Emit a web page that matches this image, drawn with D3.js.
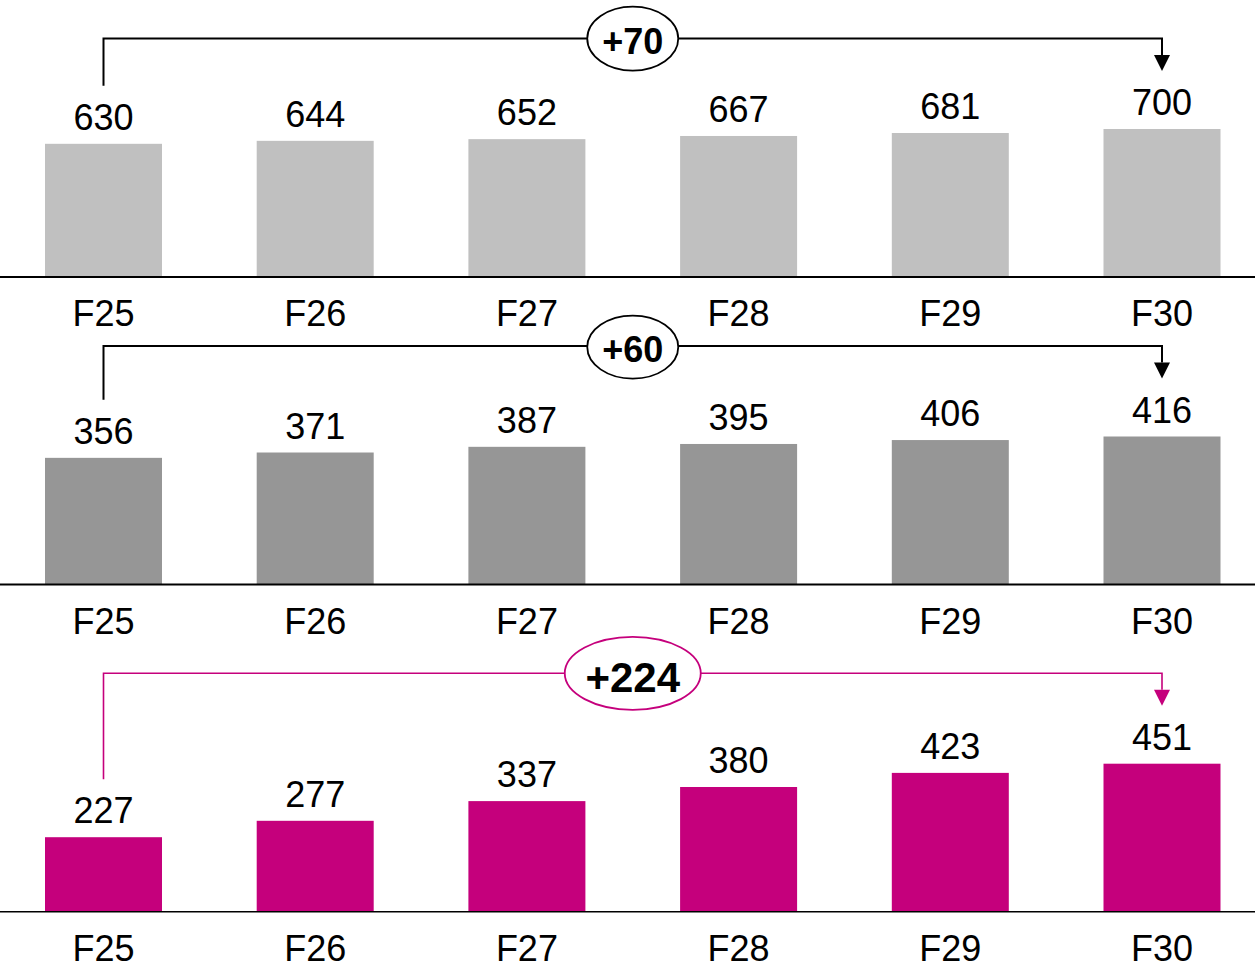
<!DOCTYPE html>
<html>
<head>
<meta charset="utf-8">
<script src="https://cdn.jsdelivr.net/npm/d3@7"></script>
<style>
  html, body { margin: 0; padding: 0; background: #fff; }
  svg { display: block; font-family: "Liberation Sans", Arial, sans-serif; }
</style>
</head>
<body>
<svg id="chart" width="1255" height="973"></svg>
<script>
// Fiscal years shown on every panel
const categories = ["F25", "F26", "F27", "F28", "F29", "F30"];

// Values for the three stacked panels (top to bottom)
const seriesTop    = [630, 644, 652, 667, 681, 700];
const seriesMiddle = [356, 371, 387, 395, 406, 416];
const seriesBottom = [227, 277, 337, 380, 423, 451];

const svg = d3.select("#chart");

// Shared horizontal band scale: 117px bars on a ~211.7px step
const STEP = 211.7, BAR_W = 117, FIRST_X = 45;
const padIn = (STEP - BAR_W) / STEP;
const x = d3.scaleBand()
  .domain(categories)
  .range([FIRST_X - STEP * padIn / 2, FIRST_X - STEP * padIn / 2 + STEP * categories.length])
  .paddingInner(padIn)
  .paddingOuter(padIn / 2);

const panels = [
  { values: seriesTop,    baseline: 277,   fill: "#c0c0c0", accent: "#000000",
    axisWidth: 2, lineWidth: 2, ovalRx: 45.5, ovalRy: 32, ovalDy: 0, badgeSize: 36, badgeDy: 15 },
  { values: seriesMiddle, baseline: 584.5, fill: "#969696", accent: "#000000",
    axisWidth: 2, lineWidth: 2, ovalRx: 45.5, ovalRy: 31.5, ovalDy: 1, badgeSize: 36, badgeDy: 15 },
  { values: seriesBottom, baseline: 911.7, fill: "#c5007c", accent: "#c5007c",
    axisWidth: 1.6, lineWidth: 1.6, ovalRx: 68, ovalRy: 36.5, ovalDy: 0, badgeSize: 42, badgeDy: 18.5 }
];

const BAR_MAX_PX = 148;

panels.forEach(p => {
  const g = svg.append("g");
  const maxV = d3.max(p.values);
  const y = d3.scaleLinear().domain([0, maxV]).range([p.baseline, p.baseline - BAR_MAX_PX]);
  const data = categories.map((c, i) => ({ cat: c, value: p.values[i] }));
  const cxOf = d => x(d.cat) + x.bandwidth() / 2;

  // bars
  g.selectAll("rect.bar").data(data).enter().append("rect")
    .attr("class", "bar")
    .attr("x", d => x(d.cat))
    .attr("y", d => y(d.value))
    .attr("width", x.bandwidth())
    .attr("height", d => y(0) - y(d.value))
    .attr("fill", p.fill);

  // baseline axis
  g.append("line")
    .attr("x1", 0).attr("x2", 1255)
    .attr("y1", y(0)).attr("y2", y(0))
    .attr("stroke", "#000").attr("stroke-width", p.axisWidth);

  // value labels above bars
  g.selectAll("text.val").data(data).enter().append("text")
    .attr("class", "val")
    .attr("x", cxOf)
    .attr("y", d => y(d.value) - 14)
    .attr("text-anchor", "middle")
    .attr("font-size", 36)
    .attr("fill", "#000")
    .text(d => d.value);

  // category labels below the axis
  g.selectAll("text.cat").data(data).enter().append("text")
    .attr("class", "cat")
    .attr("x", cxOf)
    .attr("y", y(0) + 49)
    .attr("text-anchor", "middle")
    .attr("font-size", 36)
    .attr("fill", "#000")
    .text(d => d.cat);

  // growth bracket from first to last year
  const first = data[0], last = data[data.length - 1];
  const xFirst = cxOf(first);
  const xLast = cxOf(last);
  const yBracket = y(0) - 238.4;
  const yStart = y(first.value) - 58;
  const yTip = y(last.value) - 58;
  const headH = 16, headW = 8;

  g.append("path")
    .attr("d", d3.line()([[xFirst, yStart], [xFirst, yBracket], [xLast, yBracket], [xLast, yTip - headH]]))
    .attr("fill", "none")
    .attr("stroke", p.accent)
    .attr("stroke-width", p.lineWidth);

  g.append("path")
    .attr("d", `M${xLast - headW},${yTip - headH} L${xLast + headW},${yTip - headH} L${xLast},${yTip} Z`)
    .attr("fill", p.accent);

  // change badge centred between the first and last bars
  const cx = (xFirst + xLast) / 2;
  const delta = last.value - first.value;
  g.append("ellipse")
    .attr("cx", cx).attr("cy", yBracket + p.ovalDy)
    .attr("rx", p.ovalRx).attr("ry", p.ovalRy)
    .attr("fill", "#fff")
    .attr("stroke", p.accent)
    .attr("stroke-width", 1.8);

  g.append("text")
    .attr("x", cx)
    .attr("y", yBracket + p.ovalDy + p.badgeDy)
    .attr("text-anchor", "middle")
    .attr("font-size", p.badgeSize)
    .attr("font-weight", "bold")
    .attr("fill", "#000")
    .text((delta >= 0 ? "+" : "") + delta);
});
</script>
</body>
</html>
